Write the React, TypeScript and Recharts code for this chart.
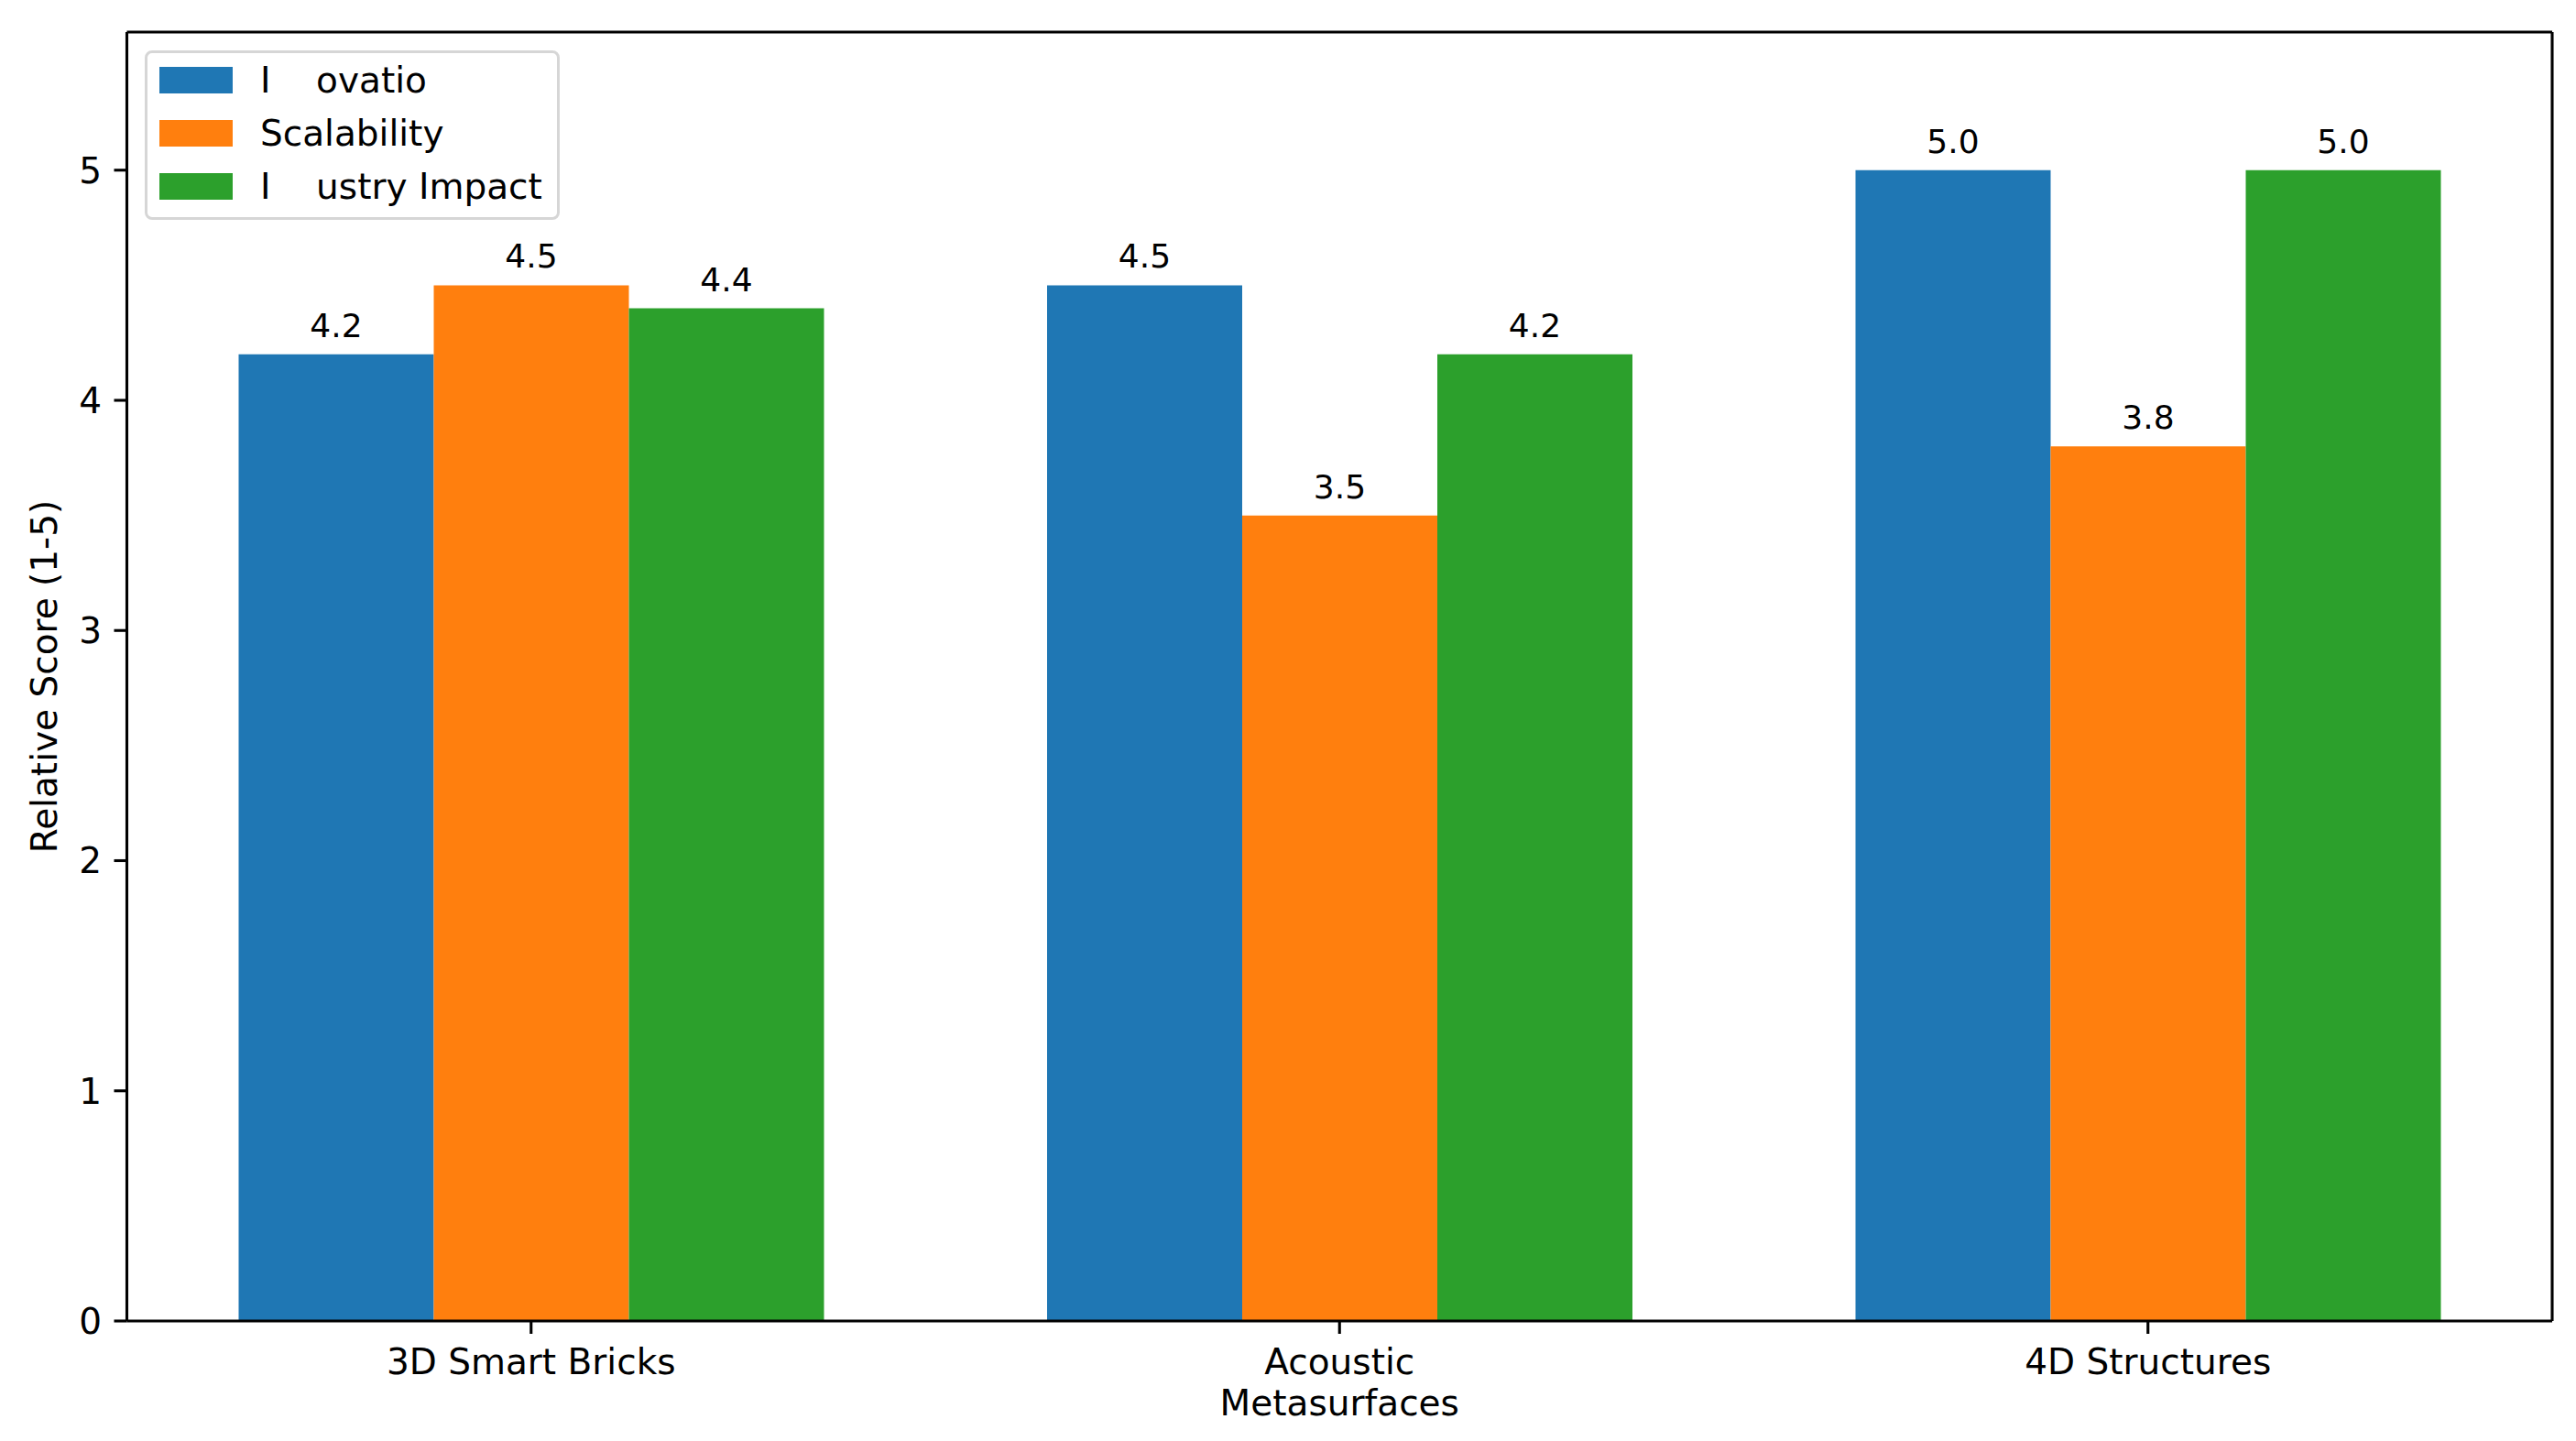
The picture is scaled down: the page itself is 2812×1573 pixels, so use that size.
import { Bar, BarChart, LabelList, Legend, XAxis, YAxis } from 'recharts';

const CATEGORIES = ['3D Smart Bricks', 'Acoustic\nMetasurfaces', '4D Structures'];
const INNOVATION = [4.2, 4.5, 5.0];
const SCALABILITY = [4.5, 3.5, 3.8];
const INDUSTRY_IMPACT = [4.4, 4.2, 5.0];

const SERIES_KEYS = ['innovation', 'scalability', 'industry'];
// legend text as it shows in the source image (some glyphs render blank there)
const SERIES_LABELS = ['I    ovatio', 'Scalability', 'I    ustry Impact'];
const SERIES_COLORS = ['#1f77b4', '#ff7f0e', '#2ca02c'];

const Y_TICKS = [0, 1, 2, 3, 4, 5];
const Y_MAX = 5.6;
const Y_LABEL = 'Relative Score (1-5)';

const FONT = '"DejaVu Sans", Verdana, sans-serif';
const LINE = 3.1;

const data = CATEGORIES.map((name, i) => ({
  name,
  innovation: INNOVATION[i],
  scalability: SCALABILITY[i],
  industry: INDUSTRY_IMPACT[i],
}));

function XTick(props: any) {
  const { x, y, payload } = props;
  const lines = String(payload.value).split('\n');
  return (
    <text x={x} y={y} textAnchor="middle" fontFamily={FONT} fontSize={39} fill="#000">
      {lines.map((line, i) => (
        <tspan key={i} x={x} dy={i === 0 ? 28 : 45}>
          {line}
        </tspan>
      ))}
    </text>
  );
}

function ValueLabel(props: any) {
  const { x, y, width, value } = props;
  return (
    <text
      x={x + width / 2}
      y={y - 19}
      textAnchor="middle"
      fontFamily={FONT}
      fontSize={36}
      fill="#000"
    >
      {Number(value).toFixed(1)}
    </text>
  );
}

function YLabel(props: any) {
  const { viewBox } = props;
  const cx = 62;
  const cy = viewBox.y + viewBox.height / 2;
  return (
    <text
      x={cx}
      y={cy}
      transform={`rotate(-90, ${cx}, ${cy})`}
      textAnchor="middle"
      fontFamily={FONT}
      fontSize={39}
      fill="#000"
    >
      {Y_LABEL}
    </text>
  );
}

function LegendBox(props: any) {
  const { payload = [] } = props;
  // keep series order instead of the alphabetical one
  const items = [...payload].sort(
    (a: any, b: any) => SERIES_LABELS.indexOf(a.value) - SERIES_LABELS.indexOf(b.value)
  );
  return (
    <div
      style={{
        boxSizing: 'border-box',
        width: 453,
        height: 185,
        border: '3px solid #d6d6d6',
        borderRadius: 8,
        background: 'rgba(255,255,255,0.8)',
        padding: '0.5px 0 0 13px',
        fontFamily: FONT,
        fontSize: 39,
        color: '#000',
      }}
    >
      {items.map((entry: any, i: number) => (
        <div
          key={i}
          style={{ display: 'flex', alignItems: 'center', height: 58 }}
        >
          <span
            style={{
              display: 'inline-block',
              width: 80,
              height: 29,
              background: entry.color,
              marginRight: 30,
            }}
          />
          <span style={{ whiteSpace: 'pre', lineHeight: '58px' }}>{entry.value}</span>
        </div>
      ))}
    </div>
  );
}

export default function App() {
  return (
    <div
      style={{
        position: 'absolute',
        left: 0,
        top: 0,
        width: 2812,
        height: 1573,
        background: '#fff',
      }}
    >
      <BarChart
        width={2812}
        height={1573}
        data={data}
        margin={{ top: 34, right: 25, bottom: 0, left: 38.5 }}
        barGap={0}
        barSize={213}
      >
        <XAxis
          dataKey="name"
          height={131}
          axisLine={{ stroke: '#000', strokeWidth: LINE }}
          tickLine={{ stroke: '#000', strokeWidth: LINE }}
          tickSize={14}
          tickMargin={16}
          tick={<XTick />}
          interval={0}
        />
        <XAxis
          xAxisId="top"
          dataKey="name"
          orientation="top"
          height={1}
          tick={false}
          tickLine={false}
          axisLine={{ stroke: '#000', strokeWidth: LINE }}
        />
        <YAxis
          width={100}
          domain={[0, Y_MAX]}
          ticks={Y_TICKS}
          allowDataOverflow
          axisLine={{ stroke: '#000', strokeWidth: LINE }}
          tickLine={{ stroke: '#000', strokeWidth: LINE }}
          tickSize={14}
          tickMargin={13.5}
          tick={{ fill: '#000', fontSize: 39, fontFamily: FONT }}
          label={<YLabel />}
        />
        <YAxis
          yAxisId="right"
          orientation="right"
          width={1}
          domain={[0, Y_MAX]}
          tick={false}
          tickLine={false}
          axisLine={{ stroke: '#000', strokeWidth: LINE }}
        />
        <Legend
          layout="vertical"
          align="center"
          verticalAlign="middle"
          content={<LegendBox />}
          wrapperStyle={{ left: 158, top: 55, width: 453, height: 185 }}
        />
        {SERIES_KEYS.map((key, i) => (
          <Bar
            key={key}
            dataKey={key}
            name={SERIES_LABELS[i]}
            fill={SERIES_COLORS[i]}
            isAnimationActive={false}
          >
            <LabelList dataKey={key} content={<ValueLabel />} />
          </Bar>
        ))}
      </BarChart>
    </div>
  );
}
